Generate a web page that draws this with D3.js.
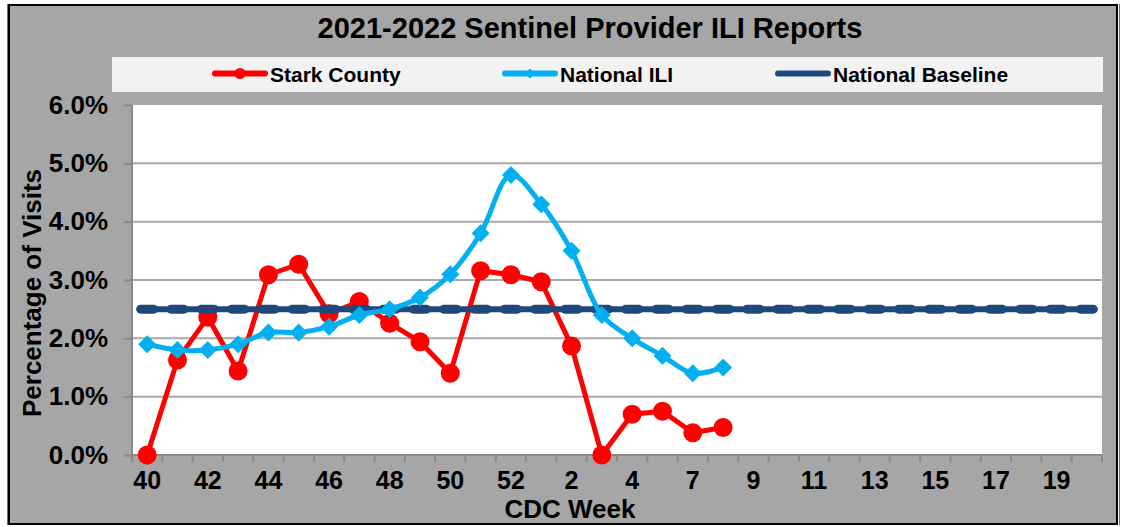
<!DOCTYPE html>
<html>
<head>
<meta charset="utf-8">
<title>Sentinel Provider ILI Reports</title>
<script src="https://cdn.jsdelivr.net/npm/d3@7"></script>
<style>
  body { margin: 0; background: #fff; }
  text { font-family: "Liberation Sans", Arial, sans-serif; font-weight: bold; fill: #000; }
</style>
</head>
<body>
<div id="chart"></div>
<script>
// CDC weeks (week 5 is missing from the reported series)
var weeks = [40, 41, 42, 43, 44, 45, 46, 47, 48, 49, 50, 51, 52,
             1, 2, 3, 4, 6, 7, 8, 9, 10, 11, 12, 13, 14, 15, 16, 17, 18, 19, 20];

// percent of visits
var starkCounty = [0.00, 1.63, 2.36, 1.44, 3.09, 3.27, 2.42, 2.63, 2.26, 1.94, 1.40,
                   3.16, 3.09, 2.97, 1.87, 0.00, 0.70, 0.75, 0.38, 0.47];
var nationalILI = [1.9, 1.8, 1.8, 1.9, 2.1, 2.1, 2.2, 2.4, 2.5, 2.7, 3.1,
                   3.8, 4.8, 4.3, 3.5, 2.4, 2.0, 1.7, 1.4, 1.5];
var nationalBaseline = weeks.map(function() { return 2.5; });

var yTicks = [0, 1, 2, 3, 4, 5, 6];

var W = 1121, H = 527;
var plot = { left: 132, right: 1102, top: 105, bottom: 455 };

var svg = d3.select('#chart').append('svg')
  .attr('width', W).attr('height', H);

// outer frame
svg.append('rect')
  .attr('x', 9).attr('y', 5).attr('width', 1108).attr('height', 519)
  .attr('fill', '#a6a6a6').attr('stroke', '#000').attr('stroke-width', 2);
svg.append('line').attr('x1', 7.5).attr('x2', 7.5).attr('y1', 4).attr('y2', 525)
  .attr('stroke', '#4472c4').attr('stroke-width', 1);
svg.append('line').attr('x1', 1119.5).attr('x2', 1119.5).attr('y1', 4).attr('y2', 525)
  .attr('stroke', '#4472c4').attr('stroke-width', 1);

svg.append('text')
  .attr('x', 590).attr('y', 38)
  .attr('text-anchor', 'middle')
  .style('font-size', '29px')
  .text('2021-2022 Sentinel Provider ILI Reports');

// legend
var legend = svg.append('g');
legend.append('rect')
  .attr('x', 112).attr('y', 57).attr('width', 991).attr('height', 35)
  .attr('fill', '#f2f2f2');

// plot area
svg.append('rect')
  .attr('x', plot.left).attr('y', plot.top)
  .attr('width', plot.right - plot.left).attr('height', plot.bottom - plot.top)
  .attr('fill', '#fff');

var x = d3.scaleBand()
  .domain(weeks)
  .range([plot.left, plot.right]);
var xc = function(i) { return x(weeks[i]) + x.bandwidth() / 2; };

var y = d3.scaleLinear()
  .domain([0, 6])
  .range([plot.bottom, plot.top]);

// gridlines
svg.append('g')
  .selectAll('line')
  .data(yTicks.filter(function(d) { return d > 0 && d < 6; }))
  .enter().append('line')
  .attr('x1', plot.left).attr('x2', plot.right)
  .attr('y1', function(d) { return y(d); })
  .attr('y2', function(d) { return y(d); })
  .attr('stroke', '#a9a9a9').attr('stroke-width', 2);

// y axis
var yAxis = svg.append('g')
  .attr('transform', 'translate(' + plot.left + ',0)')
  .call(d3.axisLeft(y).tickValues(yTicks).tickSize(8).tickPadding(16)
    .tickFormat(function(d) { return d.toFixed(1) + '%'; }));
yAxis.selectAll('text').style('font-size', '26px');
yAxis.selectAll('line').attr('stroke', '#898989').attr('stroke-width', 2);
yAxis.select('.domain').attr('stroke', '#898989').attr('stroke-width', 2)
  .attr('d', 'M0,' + plot.bottom + 'V' + plot.top);

// x axis: line, boundary ticks, labels on every other week
var xAxisG = svg.append('g');
xAxisG.append('line')
  .attr('x1', plot.left).attr('x2', plot.right)
  .attr('y1', plot.bottom).attr('y2', plot.bottom)
  .attr('stroke', '#898989').attr('stroke-width', 2);
xAxisG.selectAll('.tk')
  .data(weeks.concat(['end']))
  .enter().append('line')
  .attr('class', 'tk')
  .attr('x1', function(d) { return d === 'end' ? plot.right : x(d); })
  .attr('x2', function(d) { return d === 'end' ? plot.right : x(d); })
  .attr('y1', plot.bottom).attr('y2', plot.bottom + 7)
  .attr('stroke', '#898989').attr('stroke-width', 2);

var xLabels = svg.append('g')
  .attr('transform', 'translate(0,' + plot.bottom + ')')
  .call(d3.axisBottom(x).tickSize(0).tickPadding(16)
    .tickFormat(function(d, i) { return i % 2 === 0 ? d : ''; }));
xLabels.select('.domain').remove();
xLabels.selectAll('text').style('font-size', '25px');

svg.append('text')
  .attr('x', 570).attr('y', 518)
  .attr('text-anchor', 'middle')
  .style('font-size', '26px')
  .text('CDC Week');

svg.append('text')
  .attr('transform', 'translate(41,293) rotate(-90)')
  .attr('text-anchor', 'middle')
  .style('font-size', '26px')
  .text('Percentage of Visits');

// series
var red = '#ff0000', blue = '#00b0f0', navy = '#1f497d';
var diamond = 'M0,-9L9,0L0,9L-9,0Z';

var lineStraight = d3.line()
  .x(function(d, i) { return xc(i); })
  .y(function(d) { return y(d); });
var lineSmooth = d3.line()
  .x(function(d, i) { return xc(i); })
  .y(function(d) { return y(d); })
  .curve(d3.curveCatmullRom.alpha(0.5));

// Stark County
svg.append('path').datum(starkCounty)
  .attr('d', lineStraight)
  .attr('fill', 'none').attr('stroke', red).attr('stroke-width', 5)
  .attr('stroke-linejoin', 'round');
svg.append('g').selectAll('circle')
  .data(starkCounty).enter().append('circle')
  .attr('cx', function(d, i) { return xc(i); })
  .attr('cy', function(d) { return y(d); })
  .attr('r', 9.5)
  .attr('fill', red);

// National Baseline
svg.append('path').datum(nationalBaseline)
  .attr('d', lineStraight)
  .attr('fill', 'none').attr('stroke', navy).attr('stroke-width', 6)
  .attr('stroke-linecap', 'round');
svg.append('g').selectAll('rect')
  .data(nationalBaseline).enter().append('rect')
  .attr('x', function(d, i) { return xc(i) - 11; })
  .attr('y', function(d) { return y(d) - 4.5; })
  .attr('width', 22).attr('height', 9)
  .attr('rx', 4.5)
  .attr('fill', navy);

// National ILI
svg.append('path').datum(nationalILI)
  .attr('d', lineSmooth)
  .attr('fill', 'none').attr('stroke', blue).attr('stroke-width', 5);
svg.append('g').selectAll('path')
  .data(nationalILI).enter().append('path')
  .attr('d', diamond)
  .attr('transform', function(d, i) { return 'translate(' + xc(i) + ',' + y(d) + ')'; })
  .attr('fill', blue);

// legend entries
var legendItems = [
  { name: 'Stark County', color: red, x: 212, marker: 'circle' },
  { name: 'National ILI', color: blue, x: 502, marker: 'diamond' },
  { name: 'National Baseline', color: navy, x: 775, marker: 'dash' }
];
var ly = 73.5;
legendItems.forEach(function(it) {
  var g = legend.append('g');
  g.append('line')
    .attr('x1', it.x + 3).attr('x2', it.x + 53)
    .attr('y1', ly).attr('y2', ly)
    .attr('stroke', it.color).attr('stroke-width', 6)
    .attr('stroke-linecap', 'round');
  var mx = it.x + 28;
  if (it.marker === 'circle') {
    g.append('circle').attr('cx', mx).attr('cy', ly).attr('r', 5.5).attr('fill', it.color);
  } else if (it.marker === 'diamond') {
    g.append('path').attr('d', 'M0,-5L5,0L0,5L-5,0Z')
      .attr('transform', 'translate(' + mx + ',' + ly + ')').attr('fill', it.color);
  }
  g.append('text')
    .attr('x', it.x + 58).attr('y', ly + 8)
    .style('font-size', '21px')
    .text(it.name);
});
</script>
</body>
</html>
